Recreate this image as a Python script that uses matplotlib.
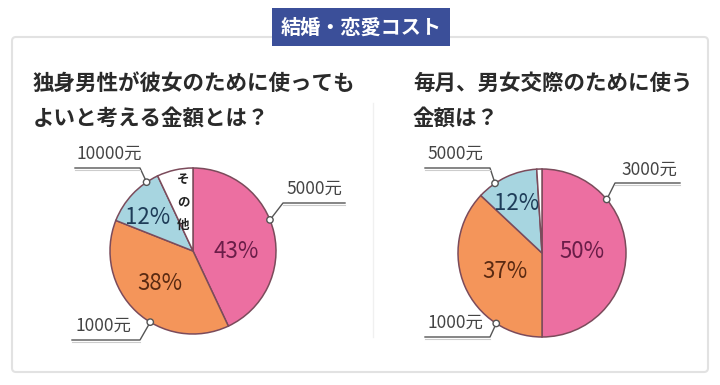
import numpy as np
import matplotlib
matplotlib.use('Agg')
from matplotlib import pyplot as plt
from matplotlib.patches import FancyBboxPatch, Rectangle, Circle

# data
left_labels = ['5000元', '1000元', '10000元', 'その他']
left_values = [43, 38, 12, 7]
right_labels = ['3000元', '1000元', '5000元', 'その他']
right_values = [50, 37, 12, 1]

title = '結婚・恋愛コスト'
left_title = ['独身男性が彼女のために使っても', 'よいと考える金額とは？']
right_title = ['毎月、男女交際のために使う', '金額は？']

colors = ['#ec6fa1', '#f4955a', '#a7d5e0', '#ffffff']
pct_colors = ['#6a1d48', '#5a2a12', '#1e3c58']
jp = ['Noto Sans CJK JP', 'DejaVu Sans']
num = ['Liberation Sans Narrow', 'Noto Sans CJK JP', 'DejaVu Sans']

W, H = 720, 385
def Y(y):
    return H - y

fig = plt.figure(figsize=(7.2, 3.85), dpi=100)
ax = fig.add_axes([0, 0, 1, 1])

def draw_pie(cx, cy, r, values):
    ax.pie(values, colors=colors, startangle=90, counterclock=False,
           center=(cx, Y(cy)), radius=r,
           wedgeprops=dict(edgecolor='#7b4b5b', linewidth=1.1))

def callout(cx, cy, r, ang, knee, end, text, tpos):
    # small circle on the pie edge, diagonal leader, underline below text
    a = np.deg2rad(ang)
    px, py = cx + r * np.cos(a), cy - r * np.sin(a)
    ax.plot([px, knee[0], end], [Y(py), Y(knee[1]), Y(knee[1])],
            color='#555555', lw=1.0, zorder=4)
    ax.plot([knee[0], end], [Y(knee[1]) - 2, Y(knee[1]) - 2],
            color='#cccccc', lw=0.8, zorder=4)
    ax.add_patch(Circle((px, Y(py)), 3.2, facecolor='white',
                        edgecolor='#555555', lw=1.0, zorder=5))
    ax.text(tpos[0], Y(tpos[1]), text, ha='center', va='center',
            fontsize=12.5, color='#444444', family=num, zorder=5)

def pct(x, y, v, c):
    ax.text(x, Y(y), f'{v}%', ha='center', va='center',
            fontsize=16, color=c, family=num)

# left pie
draw_pie(193, 251, 83, left_values)
pct(236, 252, left_values[0], pct_colors[0])
pct(160, 283, left_values[1], pct_colors[1])
pct(148, 218, left_values[2], pct_colors[2])
for i, ch in enumerate(left_labels[3]):
    ax.text(183, Y(179 + i * 23), ch, ha='center', va='center',
            fontsize=9, color='#222222', family=jp, fontweight='bold')

callout(193, 251, 83, 22, (283, 203), 345, left_labels[0], (314, 189))
callout(193, 251, 83, -121, (140, 340), 72, left_labels[1], (103, 326))
callout(193, 251, 83, 124, (140, 168), 75, left_labels[2], (109, 154))

# right pie
draw_pie(542, 253, 84, right_values)
pct(582, 252, right_values[0], pct_colors[0])
pct(505, 272, right_values[1], pct_colors[1])
pct(517, 203, right_values[2], pct_colors[2])

callout(542, 253, 84, 39.6, (615, 183), 680, right_labels[0], (649, 170))
callout(542, 253, 84, -123, (490, 337), 425, right_labels[1], (455, 323))
callout(542, 253, 84, 124, (490, 168), 425, right_labels[2], (455, 154))

# frame, divider, title box
ax.add_patch(FancyBboxPatch((12, Y(372)), 696, 335,
                            boxstyle='round,pad=0,rounding_size=4',
                            facecolor='none', edgecolor='#e2e2e2', lw=1.5, zorder=0))
ax.plot([373, 373], [Y(103), Y(337)], color='#f0f0f0', lw=1.0, zorder=0)
ax.add_patch(Rectangle((272, Y(46)), 178, 38, facecolor='#3b4f99',
                       edgecolor='none', zorder=6))
ax.text(361, Y(27), title, ha='center', va='center', fontsize=14.5,
        color='white', family=jp, fontweight='bold', zorder=7)

# sub titles
for i, line in enumerate(left_title):
    ax.text(33, Y(83 + i * 35), line, ha='left', va='center', fontsize=15.5,
            color='#2a2a2a', family=jp, fontweight='bold')
for i, line in enumerate(right_title):
    ax.text(413, Y(83 + i * 35), line, ha='left', va='center', fontsize=15.5,
            color='#2a2a2a', family=jp, fontweight='bold')

ax.set_xlim(0, W)
ax.set_ylim(0, H)
ax.set_aspect('auto')
ax.axis('off')

fig.savefig('out.png', dpi=100)
